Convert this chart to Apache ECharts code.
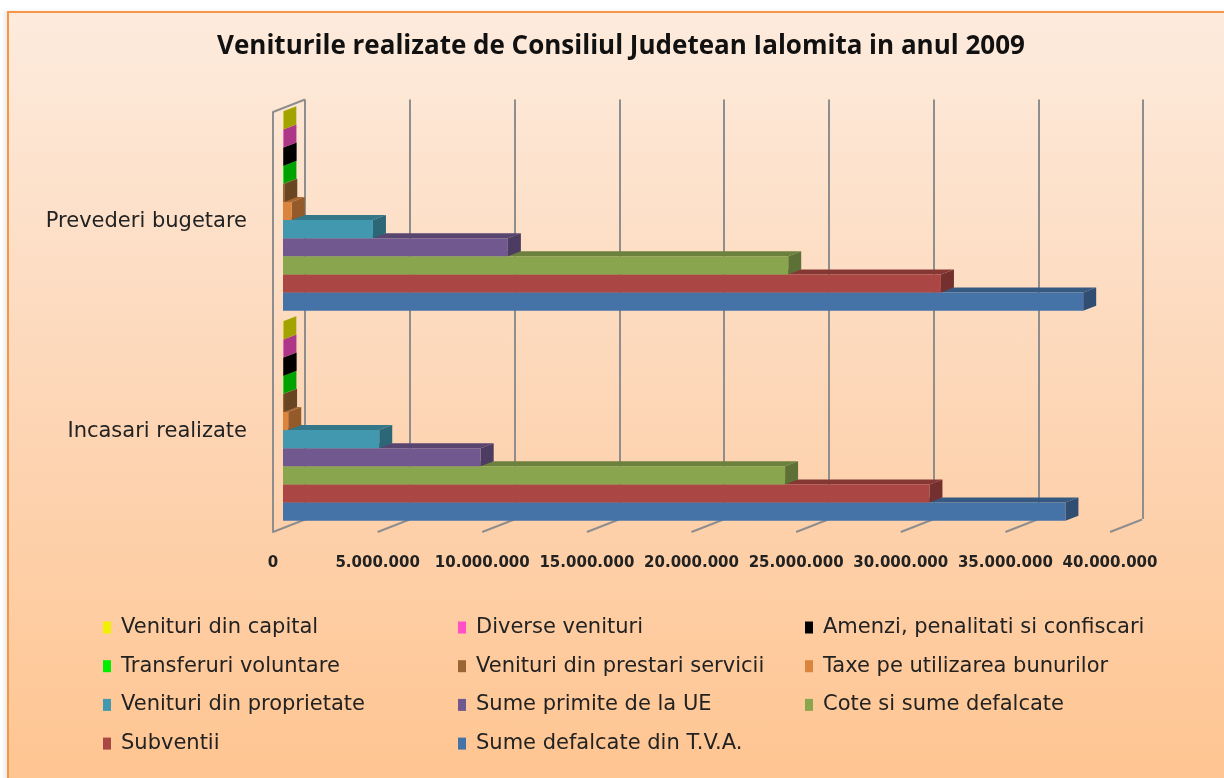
<!DOCTYPE html>
<html>
<head>
<meta charset="utf-8">
<title>Veniturile realizate 2009</title>
<script src="https://cdn.jsdelivr.net/npm/echarts@6/dist/echarts.min.js"></script>
<style>
  html, body { margin: 0; padding: 0; width: 1224px; height: 778px; overflow: hidden; background: #fff; }
  #frame {
    position: absolute; left: 7px; top: 11px; width: 1240px; height: 790px;
    border: 2px solid #F79646;
    background: linear-gradient(#FDEBDD, #FDD6B6 50%, #FFC48F);
    box-shadow: -3px 0 4px rgba(0, 0, 0, 0.08);
  }
  #chart { position: absolute; left: 0; top: 0; width: 1224px; height: 778px; }
</style>
</head>
<body>
<div id="frame"></div>
<div id="chart"></div>
<script>
// categories (bottom to top on the axis)
const categories = ['Incasari realizate', 'Prevederi bugetare']
// series, from the bottom bar of a group to the top one
const seriesNames = [
  'Sume defalcate din T.V.A.',
  'Subventii',
  'Cote si sume defalcate',
  'Sume primite de la UE',
  'Venituri din proprietate',
  'Taxe pe utilizarea bunurilor',
  'Venituri din prestari servicii',
  'Transferuri voluntare',
  'Amenzi, penalitati si confiscari',
  'Diverse venituri',
  'Venituri din capital'
]
const incasari = [37400000, 30900000, 24000000, 9450000, 4600000, 250000, 50000, 20000, 30000, 20000, 15000]
const prevederi = [38250000, 31450000, 24150000, 10750000, 4300000, 420000, 60000, 20000, 30000, 20000, 15000]
const seriesColors = ['#4572A7', '#AA4643', '#89A54E', '#71588F', '#4198AF', '#DB843D',
  '#9A6532', '#00EE00', '#000000', '#FF50C8', '#F0F000']
const tickValues = [0, 5000000, 10000000, 15000000, 20000000, 25000000, 30000000, 35000000, 40000000]

// legend columns as in the picture
const legendCols = [
  ['Venituri din capital', 'Transferuri voluntare', 'Venituri din proprietate', 'Subventii'],
  ['Diverse venituri', 'Venituri din prestari servicii', 'Sume primite de la UE', 'Sume defalcate din T.V.A.'],
  ['Amenzi, penalitati si confiscari', 'Taxe pe utilizarea bunurilor', 'Cote si sume defalcate']
]
const legendLeft = [103, 458, 805]

const depthX = 32, depthY = -12.5   // wall depth
const barDX = 13, barDY = -5        // bar depth
const gridColor = '#8E8E8E'

function fmt(v) {
  return String(v).replace(/\B(?=(\d{3})+(?!\d))/g, '.')
}

// darker shade of a #rrggbb colour
function shade(hex, f) {
  const n = parseInt(hex.slice(1), 16)
  const r = Math.round(((n >> 16) & 255) * f)
  const g = Math.round(((n >> 8) & 255) * f)
  const b = Math.round((n & 255) * f)
  return 'rgb(' + r + ',' + g + ',' + b + ')'
}

const myChart = echarts.init(document.getElementById('chart'))

function renderFrame(params, api) {
  const cs = params.coordSys
  const x = api.coord([api.value(0), 0])[0]
  const bottom = cs.y + cs.height
  const children = [{
    type: 'line',
    shape: { x1: x, y1: bottom, x2: x + depthX, y2: bottom + depthY },
    style: { stroke: gridColor, lineWidth: 2 }
  }]
  if (params.dataIndex === 0) {
    children.push({
      type: 'line',
      shape: { x1: x, y1: cs.y, x2: x + depthX, y2: cs.y + depthY },
      style: { stroke: gridColor, lineWidth: 2 }
    })
  }
  return { type: 'group', children: children }
}

function makeBarRenderer(i) {
  return function(params, api) {
    const cat = api.value(1)
    const start = api.coord([0, cat])
    const end = api.coord([api.value(0), cat])
    const band = api.size([0, 1])[1]
    const groupH = band * 0.95
    const h = groupH / seriesNames.length
    const y = start[1] + groupH / 2 - (i + 1) * h
    const x0 = start[0], x1 = end[0]
    const c = seriesColors[i]
    return {
      type: 'group',
      children: [
        {
          type: 'polygon',
          z2: i,
          shape: { points: [[x0, y], [x1, y], [x1 + barDX, y + barDY], [x0 + barDX, y + barDY]] },
          style: { fill: shade(c, 0.78) }
        },
        {
          type: 'polygon',
          z2: i,
          shape: { points: [[x1, y], [x1 + barDX, y + barDY], [x1 + barDX, y + barDY + h], [x1, y + h]] },
          style: { fill: shade(c, 0.68) }
        },
        {
          type: 'rect',
          z2: i,
          shape: { x: x0, y: y, width: Math.max(x1 - x0, 0), height: h },
          style: { fill: c }
        }
      ]
    }
  }
}

const series = [{
  name: 'frame',
  type: 'custom',
  xAxisIndex: 1,
  yAxisIndex: 1,
  silent: true,
  renderItem: renderFrame,
  encode: { x: 0 },
  data: tickValues.map(v => [v])
}]
seriesNames.forEach(function(name, i) {
  series.push({
    name: name,
    type: 'custom',
    xAxisIndex: 2,
    yAxisIndex: 2,
    itemStyle: { color: seriesColors[i] },
    renderItem: makeBarRenderer(i),
    encode: { x: 0, y: 1 },
    data: [[incasari[i], 0], [prevederi[i], 1]]
  })
})

const option = {
  animation: false,
  title: {
    text: 'Veniturile realizate de Consiliul Judetean Ialomita in anul 2009',
    left: 621,
    textAlign: 'center',
    top: 34,
    padding: 0,
    textStyle: { fontFamily: 'Open Sans', fontSize: 26, fontWeight: 'bold', color: '#111' }
  },
  legend: legendCols.map(function(col, k) {
    return {
      data: col,
      orient: 'vertical',
      left: legendLeft[k],
      top: 617,
      itemGap: 17.7,
      itemWidth: 8,
      itemHeight: 12,
      icon: 'rect',
      selectedMode: false,
      padding: 0,
      textStyle: { fontFamily: 'DejaVu Sans', fontSize: 21, color: '#222', lineHeight: 20, padding: [0, 0, 0, 5] }
    }
  }),
  grid: [
    { left: 305, top: 99.5, width: 838, height: 419.5 },
    { left: 273, top: 112, width: 837, height: 420 },
    { left: 283, top: 106, width: 836.8, height: 420 }
  ],
  xAxis: [
    {
      gridIndex: 0, type: 'value', min: 0, max: 40000000, interval: 5000000,
      axisLabel: { show: false }, axisLine: { show: false }, axisTick: { show: false },
      splitLine: { show: true, lineStyle: { color: gridColor, width: 2 } }
    },
    {
      gridIndex: 1, type: 'value', min: 0, max: 40000000, interval: 5000000,
      axisLine: { show: false }, axisTick: { show: false }, splitLine: { show: false },
      axisLabel: {
        margin: 24,
        fontFamily: 'DejaVu Sans', fontSize: 15, fontWeight: 'bold', color: '#222',
        formatter: fmt
      }
    },
    {
      gridIndex: 2, type: 'value', min: 0, max: 40000000, show: false
    }
  ],
  yAxis: [
    { gridIndex: 0, type: 'value', min: 0, max: 1, show: false },
    {
      gridIndex: 1, type: 'category', data: categories,
      axisLine: { show: true, lineStyle: { color: gridColor, width: 2 } },
      axisTick: { show: false },
      axisLabel: {
        margin: 26,
        fontFamily: 'DejaVu Sans', fontSize: 21, color: '#222',
        formatter: function(v) { return '{c|' + v + '}' },
        rich: { c: { fontFamily: 'DejaVu Sans', fontSize: 21, color: '#222', padding: [10, 0, 0, 0] } }
      }
    },
    { gridIndex: 2, type: 'category', data: categories, show: false }
  ],
  series: series
}

myChart.setOption(option)
window.addEventListener('resize', function() {
  myChart.resize()
})
</script>
</body>
</html>
